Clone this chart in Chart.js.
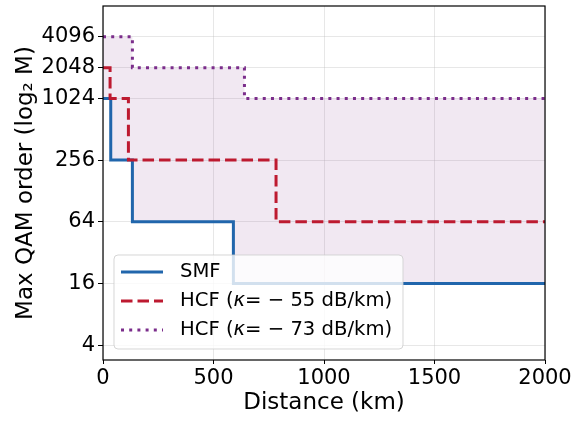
<!DOCTYPE html>
<html>
<head>
<meta charset="utf-8">
<script src="https://cdn.jsdelivr.net/npm/chart.js@4"></script>
<style>
  html, body { margin: 0; padding: 0; background: #fff; }
  #wrap { width: 576px; height: 422px; }
</style>
</head>
<body>
<div id="wrap"><canvas id="c" width="576" height="422"></canvas></div>
<script>
// step breakpoints (km) and the max QAM order holding from each breakpoint on
const smfDist = [0, 35, 133, 590, 2000]
const smfOrder = [1024, 256, 64, 16, 16]
const hcf55Dist = [0, 32, 115, 783, 2000]
const hcf55Order = [2048, 1024, 256, 64, 64]
const hcf73Dist = [0, 133, 640, 2000]
const hcf73Order = [4096, 2048, 1024, 1024]

const xTicks = [0, 500, 1000, 1500, 2000]
const yTicks = [4, 16, 64, 256, 1024, 2048, 4096]

const blue = '#2166ac'
const red = '#bd1a30'
const purple = '#7b2d8b'
const shade = 'rgba(123,45,139,0.11)'
const gridColor = 'rgba(176,176,176,0.3)'

function toPoints(xs, ys){
  return xs.map((x, i) => ({x: x, y: ys[i]}))
}

Chart.defaults.font.family = '"DejaVu Sans", sans-serif'
Chart.defaults.color = '#000'

const legendItems = [
  {parts: [['SMF', false]], color: blue, dash: []},
  {parts: [['HCF (', false], ['κ', true], ['= − 55 dB/km)', false]], color: red, dash: [11.5, 5]},
  {parts: [['HCF (', false], ['κ', true], ['= − 73 dB/km)', false]], color: purple, dash: [3, 5.2]}
]

const framePlugin = {
  id: 'frameAndLegend',
  afterDraw(chart){
    const {ctx, chartArea: a} = chart
    ctx.save()
    ctx.strokeStyle = '#000'
    ctx.lineWidth = 1.2
    ctx.strokeRect(a.left, a.top, a.right - a.left, a.bottom - a.top)

    // legend box inside the axes, lower left
    const bx = 114, by = 255, bw = 289, bh = 94, r = 4
    ctx.beginPath()
    ctx.moveTo(bx + r, by)
    ctx.arcTo(bx + bw, by, bx + bw, by + bh, r)
    ctx.arcTo(bx + bw, by + bh, bx, by + bh, r)
    ctx.arcTo(bx, by + bh, bx, by, r)
    ctx.arcTo(bx, by, bx + bw, by, r)
    ctx.closePath()
    ctx.fillStyle = 'rgba(255,255,255,0.8)'
    ctx.fill()
    ctx.strokeStyle = 'rgba(204,204,204,0.8)'
    ctx.lineWidth = 1
    ctx.stroke()

    legendItems.forEach((item, i) => {
      const y = 272 + i * 29
      ctx.beginPath()
      ctx.setLineDash(item.dash)
      ctx.strokeStyle = item.color
      ctx.lineWidth = 3
      ctx.moveTo(121, y)
      ctx.lineTo(163, y)
      ctx.stroke()
      ctx.setLineDash([])
      let x = 180
      ctx.fillStyle = '#000'
      ctx.textBaseline = 'middle'
      item.parts.forEach(([txt, ital]) => {
        ctx.font = (ital ? 'italic ' : '') + '19.6px "DejaVu Sans"'
        ctx.fillText(txt, x, y)
        x += ctx.measureText(txt).width
      })
    })
    ctx.restore()
  }
}

new Chart(document.getElementById('c'), {
  type: 'line',
  data: {
    datasets: [
      {
        label: 'SMF',
        data: toPoints(smfDist, smfOrder),
        borderColor: blue,
        borderWidth: 3,
        stepped: 'before',
        fill: false,
        pointRadius: 0,
        order: 3
      },
      {
        label: 'HCF (κ= − 55 dB/km)',
        data: toPoints(hcf55Dist, hcf55Order),
        borderColor: red,
        borderWidth: 3,
        borderDash: [11.5, 5],
        stepped: 'before',
        fill: false,
        pointRadius: 0,
        order: 2
      },
      {
        label: 'HCF (κ= − 73 dB/km)',
        data: toPoints(hcf73Dist, hcf73Order),
        borderColor: purple,
        backgroundColor: shade,
        borderWidth: 3,
        borderDash: [3, 5.2],
        stepped: 'before',
        fill: 0,
        pointRadius: 0,
        order: 1
      }
    ]
  },
  options: {
    responsive: false,
    animation: false,
    devicePixelRatio: 1,
    layout: {padding: {left: 0, top: 6, right: 31, bottom: 0}},
    plugins: {
      legend: {display: false},
      tooltip: {enabled: false},
      filler: {drawTime: 'beforeDatasetsDraw'}
    },
    scales: {
      x: {
        type: 'linear',
        min: 0,
        max: 2000,
        afterBuildTicks: (scale) => { scale.ticks = xTicks.map(v => ({value: v})) },
        afterFit: (scale) => {
          scale.height = 62
          scale.paddingLeft = 0
          scale.paddingRight = 0
        },
        ticks: {font: {size: 21}, padding: 2, maxRotation: 0, callback: (v) => String(v)},
        grid: {color: gridColor, tickColor: '#000', tickLength: 4},
        border: {display: false},
        title: {display: true, text: 'Distance (km)', font: {size: 23}, padding: {top: 0, bottom: 5}}
      },
      y: {
        type: 'logarithmic',
        min: Math.pow(2, 1.515),
        max: 8192,
        afterBuildTicks: (scale) => { scale.ticks = yTicks.map(v => ({value: v})) },
        afterFit: (scale) => {
          scale.width = 103
          scale.paddingTop = 0
          scale.paddingBottom = 0
        },
        ticks: {font: {size: 21}, padding: 3, callback: (v) => String(v)},
        grid: {color: gridColor, tickColor: '#000', tickLength: 5},
        border: {display: false},
        title: {display: true, text: 'Max QAM order (log₂ M)', font: {size: 23}, padding: {top: 12, bottom: 0}}
      }
    }
  },
  plugins: [framePlugin]
})
</script>
</body>
</html>
